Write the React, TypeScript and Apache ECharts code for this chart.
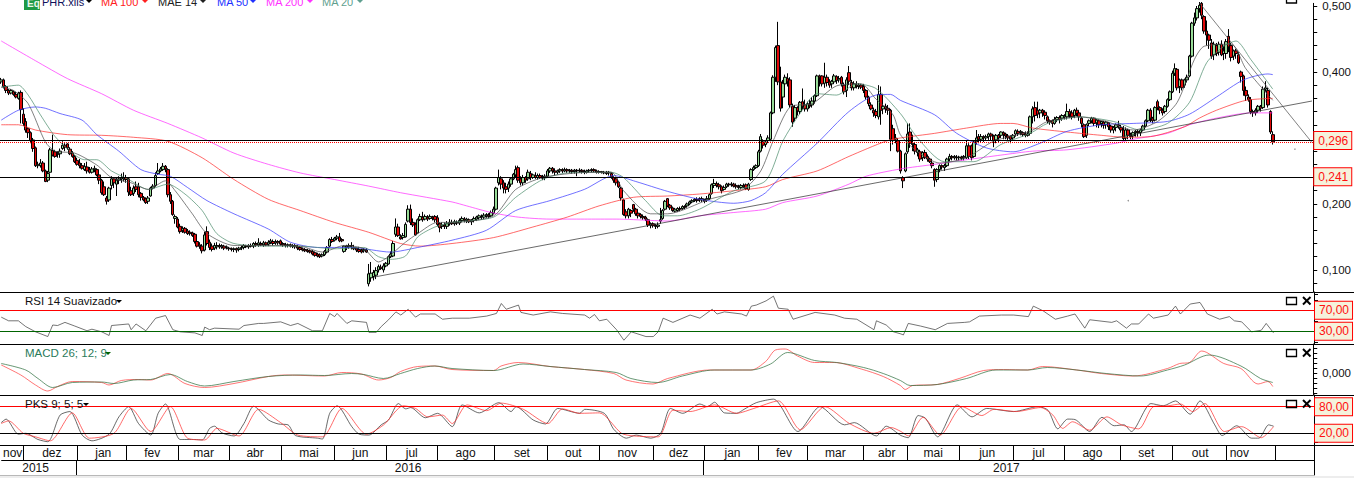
import React, { useEffect, useRef } from "react";
import * as echarts from "echarts";

// candles by month, each [open, close, low, high] in thousandths
const nov15 = [[385,388,382,391],[388,378,375,390],[378,372,368,380],[372,368,365,374],[368,372,366,374],[370,366,364,372],[366,362,360,370],[360,368,358,370],[369,343,322,372]];
const dez15 = [[336,322,318,345],[325,312,308,330],[314,308,300,316],[308,296,292,310],[297,284,279,300],[285,258,256,287],[258,260,254,264],[258,262,255,268],[262,250,248,265],[250,234,233,252],[236,246,233,250],[248,282,247,285],[281,274,272,305],[279,272,270,282],[276,275,270,280],[276,280,270,284],[284,289,282,295],[289,286,280,292],[291,285,282,292],[283,276,274,286],[277,272,270,280],[272,264,262,274]];
const jan16 = [[266,260,258,270],[262,258,254,268],[258,254,252,262],[252,257,250,262],[256,250,246,264],[252,248,246,256],[248,253,246,256],[252,254,248,258],[252,244,242,254],[244,236,230,246],[236,217,214,238],[226,214,212,234],[209,204,199,212],[206,224,203,226],[228,238,222,242],[238,232,224,240],[230,236,212,240],[236,238,230,242],[238,240,232,246],[238,240,234,248]];
const fev16 = [[240,237,232,244],[238,218,212,240],[220,214,212,226],[216,224,212,228],[226,222,218,234],[226,214,210,232],[216,210,205,218],[210,206,204,212],[208,202,200,210],[204,209,200,212],[212,224,211,226],[224,227,222,230],[228,243,226,248],[246,250,244,262],[250,253,248,256],[252,257,250,262],[257,253,248,259],[252,214,210,254],[214,204,200,218],[204,184,182,206],[178,181,170,184]];
const mar16 = [[177,165,163,180],[166,158,155,170],[160,163,156,166],[163,157,155,165],[159,155,153,162],[157,155,152,160],[156,152,150,158],[154,143,140,156],[143,136,134,146],[138,136,132,142],[136,129,125,139],[130,153,128,158],[158,140,137,166],[142,134,130,146],[136,131,128,140],[133,137,130,141],[135,137,131,142],[137,135,132,140],[135,137,132,139],[136,133,130,138],[134,135,131,137]];
const abr16 = [[133,132,129,135],[132,131,128,134],[131,132,127,134],[132,130,126,134],[131,133,128,135],[133,134,130,137],[134,137,131,139],[136,135,133,138],[135,137,132,139],[137,136,134,140],[136,140,133,142],[140,138,135,143],[138,141,135,148],[140,138,136,143],[138,141,135,144],[141,138,136,143],[139,142,136,145],[142,144,139,147],[143,140,137,146],[141,143,138,146],[143,141,138,145]];
const mai16 = [[144,139,137,146],[140,138,135,142],[138,137,134,141],[137,138,134,140],[138,136,134,140],[136,137,133,139],[137,135,132,139],[135,133,130,138],[134,131,129,136],[132,130,128,134],[131,129,127,133],[130,128,126,132],[129,127,125,131],[128,124,122,130],[126,122,120,128],[124,121,119,126],[123,120,118,125],[121,123,119,125],[123,128,121,130],[127,134,125,136],[136,146,134,148],[146,143,141,150]];
const jun16 = [[145,148,143,150],[148,150,145,153],[150,144,142,156],[146,144,142,148],[128,136,126,137],[134,136,130,138],[135,137,132,140],[137,136,131,142],[134,132,130,138],[133,130,127,134],[131,128,126,135],[130,127,125,132],[129,131,126,133],[130,127,126,133],[79,94,75,109],[88,95,82,112],[90,96,84,100],[92,99,86,104],[100,105,96,108],[104,102,100,108],[100,106,96,110]];
const jul16 = [[106,110,104,112],[109,120,108,122],[120,124,118,128],[121,140,120,144],[154,165,150,178],[165,152,150,170],[150,147,146,154],[149,152,146,156],[150,169,149,172],[174,192,172,198],[192,172,168,199],[172,168,165,178],[169,153,152,172],[156,176,155,178],[176,181,174,185],[180,176,173,188],[177,181,175,184],[180,177,174,183],[178,181,176,184],[180,178,175,182],[181,176,172,183]];
const ago16 = [[179,169,166,183],[170,164,157,172],[166,168,162,172],[168,166,162,172],[166,170,162,174],[170,172,167,177],[172,170,168,176],[170,173,167,176],[172,171,168,175],[171,175,168,178],[175,178,172,181],[177,175,172,180],[175,177,171,179],[176,173,171,178],[173,175,168,177],[175,178,172,181],[177,180,174,182],[179,182,176,184],[181,180,176,184],[180,183,177,186],[182,184,179,186],[183,181,178,186],[182,187,180,190]];
const set16 = [[186,192,184,196],[192,224,190,226],[232,240,228,252],[238,230,222,242],[232,224,216,236],[226,222,216,232],[224,230,218,234],[230,238,226,240],[238,245,236,247],[244,252,240,258],[255,236,232,258],[238,232,228,242],[232,240,228,244],[240,236,232,242],[238,248,235,252],[246,240,236,250],[240,244,238,246],[243,240,238,248],[240,243,237,246],[243,240,238,246],[241,239,236,244],[240,242,236,245]];
const out16 = [[242,250,240,253],[250,254,247,256],[254,250,246,256],[250,248,243,254],[248,250,245,252],[250,252,247,254],[252,250,247,254],[250,252,248,255],[252,250,247,254],[250,251,247,253],[251,249,246,253],[249,251,246,253],[251,250,242,253],[250,251,247,254],[251,249,246,253],[249,248,245,252],[248,250,246,252],[250,251,248,253],[251,252,248,254],[252,250,248,254],[250,248,246,252]];
const nov16 = [[248,249,246,251],[249,248,246,250],[248,247,245,250],[248,246,244,250],[247,248,243,250],[246,241,238,248],[240,236,232,242],[238,232,228,240],[233,226,224,235],[224,209,205,226],[206,184,182,208],[188,182,178,192],[182,192,178,194],[190,186,180,192],[199,192,188,200],[192,185,182,194],[186,182,178,188],[184,181,178,186],[181,179,176,184],[180,177,174,182],[176,168,165,178],[168,170,163,172]];
const dez16 = [[170,167,164,172],[167,166,162,170],[166,168,163,172],[174,176,170,194],[178,190,176,192],[192,204,190,206],[208,197,195,209],[198,194,191,200],[194,190,188,196],[189,192,187,194],[190,193,188,195],[193,192,189,196],[193,196,191,198],[196,195,192,198],[197,200,195,202],[200,203,198,205],[203,205,201,207],[205,207,203,209],[207,205,202,210],[208,206,203,210],[206,208,203,211]];
const jan17 = [[206,204,201,208],[206,208,203,212],[208,214,206,216],[216,229,214,231],[228,231,224,238],[231,228,225,234],[229,226,222,232],[226,220,216,228],[222,225,220,228],[226,230,224,232],[230,229,226,232],[229,230,226,233],[230,227,225,232],[228,226,223,231],[226,225,222,229],[225,228,222,230],[228,226,224,231],[229,223,221,231],[222,230,220,232],[237,252,235,254],[252,255,250,258],[255,258,253,260]];
const fev17 = [[258,279,256,282],[280,302,278,306],[294,289,284,298],[290,294,286,297],[296,300,292,304],[298,338,295,340],[338,392,336,395],[392,437,385,440],[440,385,380,476],[385,345,340,408],[362,383,345,388],[382,392,370,396],[390,386,378,398],[388,350,346,392],[348,324,317,352],[330,346,325,350],[346,341,334,348],[340,354,336,356],[355,348,343,375],[350,344,340,358]];
const mar17 = [[344,352,340,355],[350,348,345,358],[350,356,346,362],[356,364,352,366],[364,394,362,396],[394,392,378,396],[394,382,378,395],[383,392,376,414],[392,384,378,396],[385,380,376,389],[382,386,376,388],[385,394,382,397],[393,387,382,395],[388,390,384,394],[392,382,378,394],[380,370,366,384],[372,388,362,392],[399,386,380,409],[384,376,372,388],[376,382,372,386],[380,378,375,386],[378,380,374,383],[380,377,374,382]];
const abr17 = [[378,372,368,382],[372,362,358,374],[362,352,348,364],[350,344,342,354],[342,338,332,346],[340,334,330,344],[332,366,328,380],[366,342,320,378],[344,348,336,352],[348,344,338,352],[345,342,335,350],[342,298,280,344],[314,296,290,320],[298,300,292,306],[296,280,278,300],[280,250,246,282],[240,235,224,242],[250,276,248,278]];
const mai17 = [[279,306,276,322],[309,292,285,322],[292,290,280,305],[290,280,275,294],[278,282,272,285],[279,268,264,282],[270,278,265,280],[278,270,268,282],[272,268,264,275],[268,264,262,270],[262,258,254,266],[252,236,226,254],[237,252,233,254],[252,258,248,260],[258,256,252,260],[255,258,250,261],[258,268,256,270],[268,272,264,276],[272,270,266,274],[270,272,267,274],[271,270,266,274]];
const jun17 = [[270,271,266,273],[271,269,266,273],[270,272,266,274],[270,288,268,296],[288,272,268,292],[288,270,266,290],[272,294,270,296],[294,300,290,312],[302,298,292,306],[298,302,294,306],[302,300,294,304],[300,302,296,305],[302,306,297,308],[306,303,296,308],[303,296,286,305],[297,304,292,306],[304,300,294,306],[304,309,300,310],[308,305,298,310],[306,303,298,308],[303,300,296,306],[302,298,292,304]];
const jul17 = [[300,304,296,306],[306,311,302,313],[310,307,303,313],[308,310,304,312],[308,305,302,310],[306,304,301,310],[304,306,302,310],[307,332,305,334],[332,344,322,348],[346,334,325,355],[342,336,330,355],[338,342,330,344],[342,338,332,344],[339,334,328,342],[332,326,322,334],[326,324,320,328],[326,322,316,328],[322,328,320,332],[328,331,324,333],[331,328,322,334],[330,334,326,336]];
const ago17 = [[332,334,328,336],[332,340,328,352],[340,336,330,344],[338,332,328,342],[334,342,330,344],[342,337,333,346],[338,332,326,340],[330,322,316,332],[320,302,300,322],[304,320,300,322],[322,326,318,328],[326,330,322,332],[330,322,318,331],[323,327,316,329],[326,320,315,328],[322,325,316,326],[324,319,314,326],[320,324,314,326],[323,317,312,324],[318,312,308,320],[312,316,307,318],[316,320,310,322],[320,318,314,326]];
const set17 = [[316,312,308,320],[312,299,296,318],[300,312,296,316],[312,304,298,314],[304,302,298,308],[303,308,298,310],[308,310,302,312],[310,308,302,313],[308,312,303,314],[312,318,310,320],[318,326,316,328],[326,342,324,344],[342,330,324,345],[330,326,322,332],[327,346,325,348],[355,346,342,358],[346,342,336,348],[342,338,334,345],[340,348,337,350],[348,358,346,360],[358,370,356,372]];
const out17 = [[370,398,368,402],[398,405,394,413],[404,376,372,406],[378,388,368,390],[388,376,372,390],[380,388,376,390],[388,392,384,396],[394,424,392,426],[424,474,422,476],[474,482,470,490],[482,496,478,500],[496,501,490,506],[504,486,480,506],[484,462,458,486],[462,456,440,478],[456,448,435,458],[444,424,420,450],[426,442,418,446],[440,428,424,444],[430,442,425,446],[442,426,424,448],[428,432,418,440]];
const nov17 = [[428,446,420,450],[454,438,430,465],[440,422,416,444],[424,432,418,434],[432,428,420,435],[426,414,412,430],[400,393,384,402],[394,372,364,396],[372,364,356,378],[362,358,355,366],[358,340,336,362],[340,338,332,343],[338,342,334,345],[342,348,338,350],[348,345,340,350],[346,374,344,378],[374,376,370,386],[372,350,346,376],[340,309,306,342],[305,294,290,310]];

const monthCandles = [nov15,dez15,jan16,fev16,mar16,abr16,mai16,jun16,jul16,ago16,set16,out16,nov16,dez16,jan17,fev17,mar17,abr17,mai17,jun17,jul17,ago17,set17,out17,nov17];
const monthNames = ["nov","dez","jan","fev","mar","abr","mai","jun","jul","ago","set","out","nov","dez","jan","fev","mar","abr","mai","jun","jul","ago","set","out","nov"];
const yearNames = ["2015","2016","2017"];
const yearLabelSlots = [14, 166, 410];
const yearStartSlots = [0, 31, 287];
const totalSlots = 536;

// overlays as [candle index, value in thousandths]
const ma200 = [[0,447],[14,417],[27,390],[41,367],[54,342],[68,322],[82,300],[95,277],[109,260],[122,247],[136,237],[150,227],[163,217],[184,203],[190,197],[200,187],[211,180],[224,177],[238,177],[251,177],[265,175],[272,174],[285,182],[299,187],[312,192],[319,202],[333,212],[346,230],[353,242],[367,253],[381,260],[394,267],[408,274],[421,280],[435,282],[455,292],[462,298],[476,307],[485,320],[496,330],[510,338],[519,338]];
const ma100 = [[0,320],[7,320],[14,312],[27,305],[41,304],[54,301],[68,295],[82,270],[95,237],[109,207],[122,190],[136,172],[150,157],[163,140],[171,136],[184,140],[201,149],[217,165],[231,180],[244,197],[258,210],[272,212],[285,215],[299,220],[312,226],[319,237],[333,250],[346,272],[361,295],[367,300],[381,307],[394,315],[408,322],[413,322],[421,315],[435,309],[449,304],[459,301],[469,302],[483,317],[489,330],[496,342],[508,357],[519,360]];
const ma50 = [[0,327],[7,342],[14,347],[18,345],[24,337],[33,327],[39,305],[48,280],[57,252],[64,245],[69,242],[76,225],[84,205],[95,185],[109,162],[118,142],[129,134],[143,134],[159,127],[170,134],[184,145],[198,160],[210,190],[224,205],[238,222],[250,243],[259,234],[272,219],[285,207],[299,201],[306,205],[312,217],[319,245],[333,292],[346,340],[357,365],[363,366],[367,357],[381,335],[390,307],[402,285],[413,279],[424,292],[435,310],[449,320],[462,322],[476,325],[485,336],[496,362],[507,388],[517,397],[519,396]];
const ma20 = [[0,377],[7,380],[11,365],[16,335],[22,302],[29,277],[34,267],[39,267],[45,250],[52,237],[60,222],[68,230],[75,215],[82,190],[88,155],[95,140],[109,136],[122,136],[136,132],[148,134],[154,120],[159,116],[165,121],[170,150],[177,165],[184,172],[201,180],[210,210],[221,237],[231,247],[249,248],[254,240],[263,205],[270,182],[276,182],[285,192],[299,220],[312,235],[319,295],[326,337],[333,367],[341,365],[349,382],[357,375],[367,337],[374,300],[385,264],[397,264],[408,290],[420,307],[427,322],[440,332],[454,325],[465,312],[476,322],[485,354],[492,414],[499,439],[504,447],[510,419],[519,374]];
const mae14 = [[0,377],[5,372],[11,352],[18,294],[22,280],[30,277],[39,259],[45,240],[53,232],[60,222],[67,235],[71,220],[78,185],[84,155],[95,137],[109,137],[122,136],[131,127],[140,137],[148,132],[154,112],[158,120],[165,142],[170,155],[178,172],[184,172],[201,182],[210,222],[221,240],[235,247],[249,248],[254,220],[265,185],[272,185],[289,207],[303,222],[310,250],[315,295],[322,347],[331,352],[341,379],[351,382],[357,359],[364,335],[367,305],[374,279],[383,262],[394,270],[405,295],[420,310],[427,325],[440,332],[451,325],[462,312],[472,325],[480,354],[487,419],[491,439],[502,442],[508,405],[519,357]];
const risingTrend = [[152,89],[535,356]];
const fallingTrend = [[489,505],[535,293]];
const specks = [[460,205],[528,283]];
const levels = [296, 241];

const rsi = [[0,57],[3,50],[7,50],[10,39],[14,29],[19,20],[21,42],[23,41],[26,47],[30,40],[35,31],[37,34],[41,29],[44,22],[45,41],[52,44],[53,33],[55,44],[59,31],[63,55],[67,60],[70,33],[73,29],[79,27],[82,22],[83,38],[85,33],[87,36],[97,34],[99,41],[105,45],[107,45],[114,48],[118,41],[121,45],[127,31],[131,31],[134,64],[136,58],[137,64],[141,45],[143,50],[149,47],[150,28],[153,28],[155,39],[158,52],[161,67],[163,61],[166,72],[169,57],[171,63],[177,63],[180,53],[184,55],[191,55],[198,59],[202,64],[204,83],[206,72],[211,80],[212,66],[217,61],[224,67],[229,64],[238,61],[240,55],[242,62],[244,50],[247,53],[251,33],[254,13],[257,29],[263,20],[266,20],[268,29],[270,55],[274,47],[281,61],[285,55],[290,72],[292,63],[295,67],[302,63],[304,59],[306,78],[308,80],[312,88],[315,97],[317,74],[321,72],[323,53],[332,66],[340,61],[344,55],[349,53],[356,33],[357,50],[361,42],[364,29],[367,25],[368,23],[370,45],[375,40],[381,33],[386,45],[393,47],[395,48],[399,59],[408,61],[413,61],[419,58],[421,78],[425,69],[430,53],[435,59],[438,63],[442,36],[444,52],[453,47],[455,50],[459,36],[461,44],[464,44],[468,63],[470,55],[476,61],[479,78],[481,63],[485,82],[489,85],[492,63],[497,53],[501,58],[503,50],[506,48],[510,29],[514,32],[516,45],[519,27]];
const rsiLevels = [70, 30];

const macdFast = [[0,16],[8,-4],[14,-24],[19,-36],[23,-27],[29,-17],[41,-19],[44,-24],[49,-15],[56,-13],[61,-14],[68,-1],[75,-21],[83,-29],[95,-21],[109,-7],[116,-4],[132,-6],[139,1],[147,-2],[154,-14],[159,-9],[163,3],[170,13],[177,14],[184,7],[201,5],[204,14],[211,21],[224,13],[238,7],[250,-1],[255,-14],[266,-22],[272,-11],[289,6],[306,6],[312,23],[316,46],[320,48],[325,34],[332,21],[340,21],[351,8],[360,-7],[367,-25],[369,-33],[372,-25],[382,-23],[391,-11],[401,5],[409,7],[419,6],[425,13],[439,6],[449,-1],[462,-6],[476,9],[481,19],[485,21],[490,44],[499,19],[506,9],[513,-22],[517,-17],[519,-27]];
const macdSignal = [[0,19],[10,6],[15,-11],[21,-29],[29,-19],[41,-18],[46,-21],[54,-14],[61,-13],[69,-3],[76,-17],[83,-26],[95,-17],[109,-7],[122,-4],[132,-5],[143,-1],[148,-3],[156,-11],[163,-1],[170,9],[177,14],[184,9],[201,5],[213,18],[224,13],[238,7],[251,1],[257,-11],[268,-19],[278,-6],[291,6],[306,6],[314,18],[321,41],[332,25],[341,21],[352,11],[360,-1],[367,-15],[371,-25],[382,-23],[394,-11],[406,6],[419,6],[427,11],[439,6],[451,-1],[465,-6],[476,6],[483,16],[493,36],[506,14],[514,-11],[519,-19]];

const pksK = [[0,44],[2,52],[7,18],[10,20],[15,6],[19,1],[24,61],[28,69],[33,16],[37,3],[44,18],[48,57],[52,80],[56,42],[61,16],[64,65],[67,86],[73,6],[79,6],[82,5],[85,31],[87,36],[90,21],[95,14],[99,42],[103,81],[109,50],[113,41],[117,39],[120,15],[129,9],[131,7],[134,65],[137,82],[143,35],[146,18],[150,16],[155,39],[158,50],[162,87],[165,75],[167,78],[173,55],[178,65],[184,35],[188,84],[195,66],[203,89],[208,69],[210,80],[217,50],[222,41],[227,76],[236,65],[238,74],[246,65],[250,28],[255,9],[259,16],[265,9],[269,20],[273,76],[278,65],[285,86],[288,80],[291,90],[295,66],[300,65],[303,74],[308,89],[315,97],[325,24],[334,80],[344,39],[348,44],[357,14],[361,36],[367,15],[370,10],[374,60],[377,54],[382,12],[390,84],[396,57],[402,76],[413,69],[423,80],[427,72],[431,30],[435,52],[438,51],[444,24],[449,56],[454,37],[458,39],[461,24],[469,87],[474,82],[479,93],[485,63],[489,93],[495,39],[498,15],[504,37],[510,9],[513,9],[517,39],[519,36]];
const pksD = [[0,42],[3,48],[9,20],[14,12],[20,3],[29,66],[36,9],[46,20],[53,76],[61,24],[69,80],[76,9],[83,5],[88,31],[97,14],[105,74],[114,44],[121,16],[131,12],[139,76],[149,18],[156,39],[164,82],[169,76],[174,57],[180,61],[184,42],[190,84],[198,71],[204,88],[213,74],[223,42],[229,75],[236,65],[244,66],[253,20],[258,14],[268,12],[274,72],[281,69],[291,84],[300,65],[307,76],[317,93],[326,28],[336,80],[346,42],[356,20],[363,33],[367,24],[370,14],[376,56],[383,16],[392,80],[400,60],[405,74],[414,69],[424,78],[429,61],[433,31],[437,46],[444,27],[451,57],[457,39],[464,30],[470,80],[476,82],[481,86],[486,69],[491,87],[499,24],[506,35],[514,10],[519,35]];
const pksLevels = [80, 20];

const priceTicks = [0.08,0.1,0.12,0.14,0.16,0.18,0.2,0.22,0.24,0.26,0.28,0.3,0.32,0.34,0.36,0.38,0.4,0.42,0.44,0.46,0.48,0.5];
const priceLabels = [0.1,0.2,0.4,0.5];
const macdTicks = [-0.04,-0.03,-0.02,-0.01,0,0.01,0.02,0.03,0.04,0.05];
const legendItems = [
  { name: "PHR.xlls", color: "#10105a", x: 42, arrow: 86 },
  { name: "MA 100", color: "#ff2020", x: 101, arrow: 142 },
  { name: "MAE 14", color: "#202020", x: 158, arrow: 200 },
  { name: "MA 50", color: "#2030ff", x: 217, arrow: 250 },
  { name: "MA 200", color: "#ff30ff", x: 266, arrow: 307 },
  { name: "MA 20", color: "#5f9f8f", x: 322, arrow: 357 },
];
const panelTitles = [
  { name: "RSI 14 Suavizado", color: "#111", y: 301, arrow: 116, arrowColor: "#000" },
  { name: "MACD 26; 12; 9", color: "#2a7a5a", y: 353, arrow: 105, arrowColor: "#006000" },
  { name: "PKS 9; 5; 5", color: "#111", y: 404, arrow: 83, arrowColor: "#000" },
];
const iconTops = [297, 349, 400];

const font = "'Liberation Sans', Arial, sans-serif";
const thousandths = (a: number[][]) => a.map(([i, v]) => [i, v / 1000]);
const comma = (d: number) => (v: number) => v.toFixed(d).replace(".", ",");

export default function App() {
  const ref = useRef<HTMLDivElement>(null);
  useEffect(() => {
    const chart = echarts.init(ref.current!, undefined, { renderer: "svg", width: 1354, height: 478 });
    const candles = monthCandles.flat().map((c) => c.map((v) => v / 1000));
    const cats = Array.from({ length: totalSlots }, (_, i) => String(i));

    const monthStarts = new Set<number>();
    const monthCats = Array.from({ length: totalSlots }, () => "");
    const monthMarks = new Set<number>();
    let start = 0;
    monthCandles.forEach((m, k) => {
      if (k > 0) monthStarts.add(start);
      const mid = k === monthCandles.length - 1 ? start + 5 : start + Math.floor(m.length / 2);
      monthCats[mid] = monthNames[k];
      monthMarks.add(mid);
      start += m.length;
    });
    monthStarts.add(start);
    const yearCats = Array.from({ length: totalSlots }, () => "");
    yearNames.forEach((y, k) => { yearCats[yearLabelSlots[k]] = y; });
    const yearMarks = new Set(yearLabelSlots);
    const yearStarts = new Set(yearStartSlots.slice(1));

    const tops = [0, 292, 344, 395, 445, 460];
    const heights = [292, 52, 51, 50, 15, 15];
    const grids = tops.map((t, k) => ({ left: 0, right: 40, top: t, height: heights[k] }));
    const black = { color: "#000", width: 1 };

    const panelX = (k: number) => ({
      type: "category", gridIndex: k, data: cats, boundaryGap: true,
      axisLine: { show: true, onZero: false, lineStyle: black }, axisTick: { show: false }, axisLabel: { show: false },
      splitLine: { show: false },
    });
    const stripX = (k: number, data: string[], marks: Set<number>, ticks: Set<number>, lineColor: string) => ({
      type: "category", gridIndex: k, data, boundaryGap: true,
      axisLine: { show: true, onZero: false, lineStyle: { color: lineColor, width: 1 } },
      axisTick: { show: true, inside: true, length: 15, interval: (i: number) => ticks.has(i), lineStyle: black },
      axisLabel: {
        show: true, inside: true, margin: 1, interval: (i: number) => marks.has(i),
        fontFamily: font, fontSize: 12, color: "#111",
      },
      splitLine: { show: false },
    });
    const yBase = (k: number, min: number, max: number, ticks: number[], labels: number[], fmt: any) => ({
      type: "value", gridIndex: k, position: "right", min, max, scale: true,
      splitLine: { show: false },
      axisLine: { show: true, onZero: false, lineStyle: black },
      axisTick: { show: ticks.length > 0, length: 4, customValues: ticks, lineStyle: black },
      axisLabel: { show: labels.length > 0, customValues: labels, formatter: fmt, margin: 9, fontFamily: font, fontSize: 11.5, color: "#111" },
    });
    const boxLabel = (text: string) => ({
      show: true, position: "end", distance: 1, formatter: text, color: "#ff1010", fontFamily: font, fontSize: 12,
      backgroundColor: "#f5f2dc", borderColor: "#ff0000", borderWidth: 1, padding: [3, 3, 2, 4],
    });
    const levelLine = (value: number, text: string | null, color: string, type = "solid") => ({
      yAxis: value,
      lineStyle: { color, width: 1, type },
      label: text ? boxLabel(text) : { show: false },
    });
    const line = (name: string, k: number, data: number[][], color: string, extra: any = {}) => ({
      name, type: "line", xAxisIndex: k, yAxisIndex: k, data, showSymbol: false, symbol: "none",
      lineStyle: { color, width: 1, opacity: 0.72 }, silent: true, z: 3, ...extra,
    });

    const graphic: any[] = [];
    legendItems.forEach((l) => {
      graphic.push({ type: "text", x: l.x, y: 7, style: { text: l.name, fill: l.color, font: `11px ${font}`, verticalAlign: "bottom" } });
      graphic.push({ type: "polygon", shape: { points: [[l.arrow, 0], [l.arrow + 6, 0], [l.arrow + 3, 3]] }, style: { fill: l.color === "#10105a" ? "#000" : l.color } });
    });
    graphic.push({ type: "rect", shape: { x: 24, y: -2, width: 16, height: 12 }, style: { fill: "#1f9a45" } });
    graphic.push({ type: "text", x: 27, y: 8, style: { text: "Eq", fill: "#eaf6ea", font: `bold 10px ${font}`, verticalAlign: "bottom" } });
    panelTitles.forEach((p) => {
      graphic.push({ type: "text", x: 25, y: p.y, style: { text: p.name, fill: p.color, font: `11.5px ${font}`, verticalAlign: "middle" } });
      graphic.push({ type: "polygon", shape: { points: [[p.arrow, p.y - 1], [p.arrow + 6, p.y - 1], [p.arrow + 3, p.y + 2]] }, style: { fill: p.arrowColor } });
    });
    const iconStyle = { stroke: "#000", lineWidth: 1.3, fill: "none" };
    graphic.push({ type: "rect", shape: { x: 1286.5, y: -6, width: 10, height: 9 }, style: iconStyle });
    iconTops.forEach((t) => {
      graphic.push({ type: "rect", shape: { x: 1286.5, y: t + 0.5, width: 10, height: 7 }, style: iconStyle });
      graphic.push({ type: "line", shape: { x1: 1303, y1: t, x2: 1310.5, y2: t + 7.5 }, style: { stroke: "#000", lineWidth: 2 } });
      graphic.push({ type: "line", shape: { x1: 1310.5, y1: t, x2: 1303, y2: t + 7.5 }, style: { stroke: "#000", lineWidth: 2 } });
    });
    [292, 344, 395, 445].forEach((y) => {
      graphic.push({ type: "line", shape: { x1: 1314, y1: y + 0.5, x2: 1354, y2: y + 0.5 }, style: { stroke: "#000", lineWidth: 1 } });
    });
    graphic.push({ type: "rect", shape: { x: 0, y: 476, width: 1354, height: 2 }, style: { fill: "#ededed" } });
    graphic.forEach((g) => { g.z = 20; });

    chart.setOption({
      animation: false,
      backgroundColor: "#ffffff",
      grid: grids,
      xAxis: [
        panelX(0), panelX(1), panelX(2), panelX(3),
        stripX(4, monthCats, monthMarks, monthStarts, "#000"),
        stripX(5, yearCats, yearMarks, yearStarts, "#b8b8b8"),
      ],
      yAxis: [
        yBase(0, 0.0665, 0.504, priceTicks, priceLabels, comma(3)),
        yBase(1, 5.8, 104.9, [100, 90, 50, 10], [], null),
        yBase(2, -0.044, 0.058, macdTicks, [0], comma(3)),
        yBase(3, -6.4, 106.3, [100, 60, 40, 0], [], null),
        yBase(4, 0, 1, [], [], null),
        yBase(5, 0, 1, [], [], null),
      ],
      graphic,
      series: [
        {
          name: "PHR.xlls", type: "candlestick", xAxisIndex: 0, yAxisIndex: 0, data: candles, barWidth: 3, silent: true, z: 2,
          itemStyle: { color: "#98dc98", color0: "#e00808", borderColor: "#000", borderColor0: "#000", borderWidth: 1 },
          markLine: {
            silent: true, symbol: "none", animation: false, precision: 3, z: 6,
            data: [
              levelLine(levels[0] / 1000, "0,296", "#000"),
              levelLine((levels[0] - 1.5) / 1000, null, "#ff0000", "dotted"),
              levelLine(levels[1] / 1000, "0,241", "#000"),
            ],
          },
        },
        line("MA 200", 0, thousandths(ma200), "#ff30ff", { smooth: 0.25 }),
        line("MA 100", 0, thousandths(ma100), "#ff3030", { smooth: 0.25 }),
        line("MA 50", 0, thousandths(ma50), "#3a3aff", { smooth: 0.25 }),
        line("MA 20", 0, thousandths(ma20), "#4f8f6f", { smooth: 0.25 }),
        line("MAE 14", 0, thousandths(mae14), "#505050", { smooth: 0.25 }),
        line("LTA", 0, thousandths(risingTrend), "#303030"),
        line("LTB", 0, thousandths(fallingTrend), "#505050"),
        { type: "scatter", xAxisIndex: 0, yAxisIndex: 0, data: thousandths(specks), symbolSize: 1.5, itemStyle: { color: "#777" }, silent: true },
        line("RSI", 1, rsi, "#404040", {
          markLine: { silent: true, symbol: "none", animation: false, z: 6, data: [
            levelLine(rsiLevels[0], "70,00", "#ff0000"), levelLine(rsiLevels[1], "30,00", "#006400"),
          ] },
        }),
        line("MACD", 2, macdFast.map(([i, v]) => [i, v / 1000]), "#ff4040", { smooth: 0.3 }),
        line("Sinal", 2, macdSignal.map(([i, v]) => [i, v / 1000]), "#2f7040", { smooth: 0.3 }),
        line("PKS K", 3, pksK, "#303030", {
          smooth: 0.25,
          markLine: { silent: true, symbol: "none", animation: false, z: 6, data: [
            levelLine(pksLevels[0], "80,00", "#ff0000"), levelLine(pksLevels[1], "20,00", "#000"),
          ] },
        }),
        line("PKS D", 3, pksD, "#ff3030", { smooth: 0.25 }),
      ],
    });
    return () => chart.dispose();
  }, []);
  return <div ref={ref} style={{ position: "absolute", left: 0, top: 0, width: 1354, height: 478 }} />;
}
